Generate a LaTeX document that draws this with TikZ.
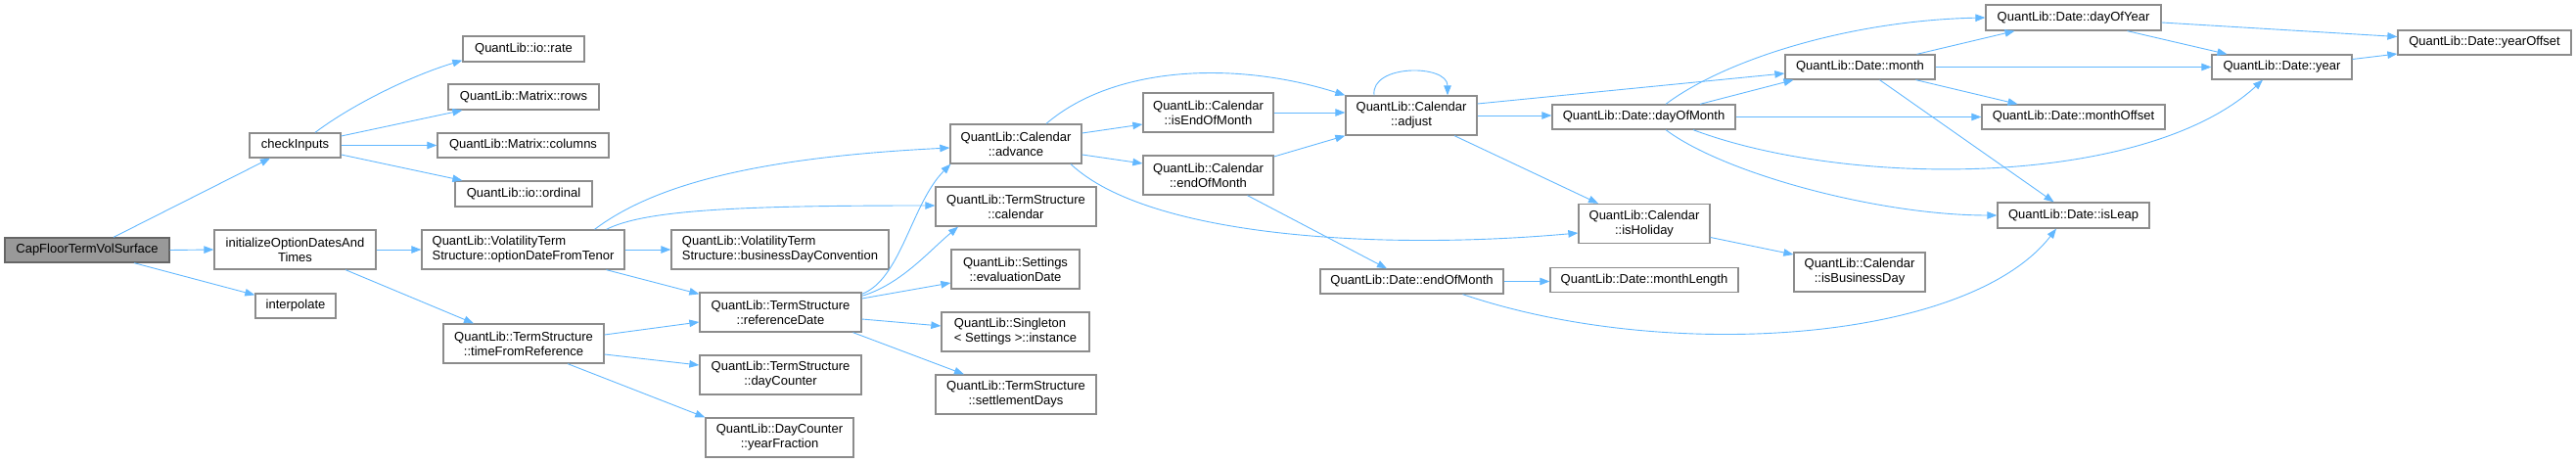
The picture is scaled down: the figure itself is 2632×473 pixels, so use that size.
\documentclass[tikz,border=0pt]{standalone}
\usepackage{fontspec}
\setmainfont{Liberation Sans}
\usepackage{tikz}
\usetikzlibrary{arrows.meta}
\definecolor{edgeblue}{HTML}{63B8FF}
\definecolor{boxline}{HTML}{8C8C8C}
\definecolor{rootfill}{HTML}{999999}
\definecolor{rootline}{HTML}{666666}

\begin{document}
\begin{tikzpicture}[x=1pt,y=-1pt,
    fn/.style={draw=boxline,line width=1.3pt,fill=white,inner sep=0pt,align=center,font=\fontsize{13}{15}\selectfont},
    fnone/.style={fn,minimum height=25pt},
    fntwo/.style={fn,minimum height=40pt},
    call/.style={draw=edgeblue,line width=0.9pt,-{Triangle[length=10pt,width=7.5pt]}}]
    \useasboundingbox (0,0) rectangle (2632,473);
    \node[fnone,minimum width=168pt,fill=rootfill,draw=rootline] (root) at (89,255.5) {CapFloorTermVolSurface};
    \node[fnone,minimum width=93pt] (chkin) at (301.5,148.5) {checkInputs};
    \node[fnone,minimum width=124pt,minimum height=26pt] (iorate) at (535,50) {QuantLib::io::rate};
    \node[fnone,minimum width=154pt,minimum height=26pt] (mrows) at (535,99) {QuantLib::Matrix::rows};
    \node[fnone,minimum width=175pt] (mcols) at (534.5,148.5) {QuantLib::Matrix::columns};
    \node[fnone,minimum width=140pt,minimum height=26pt] (iord) at (535,198) {QuantLib::io::ordinal};
    \node[fntwo,minimum width=165pt] (initdt) at (301.5,255) {initializeOptionDatesAnd\\Times};
    \node[fnone,minimum width=82pt] (interp) at (302,312.5) {interpolate};
    \node[fntwo,minimum width=207pt,align=left] (optdt) at (534.5,255) {QuantLib::VolatilityTerm\\Structure::optionDateFromTenor};
    \node[fntwo,minimum width=164pt] (tfref) at (535,351) {QuantLib::TermStructure\\::timeFromReference};
    \node[fntwo,minimum width=134pt] (advance) at (1038,147) {QuantLib::Calendar\\::advance};
    \node[fntwo,minimum width=164pt] (tscal) at (1038,211) {QuantLib::TermStructure\\::calendar};
    \node[fntwo,minimum width=222pt,align=left] (bdconv) at (797,255) {QuantLib::VolatilityTerm\\Structure::businessDayConvention};
    \node[fntwo,minimum width=131pt] (evaldt) at (1037.5,275) {QuantLib::Settings\\::evaluationDate};
    \node[fntwo,minimum width=165pt] (refdt) at (797.5,319) {QuantLib::TermStructure\\::referenceDate};
    \node[fntwo,minimum width=151pt,align=left] (inst) at (1037.5,339) {QuantLib::Singleton\\< Settings >::instance};
    \node[fntwo,minimum width=165pt] (daycnt) at (797.5,383) {QuantLib::TermStructure\\::dayCounter};
    \node[fntwo,minimum width=164pt] (settle) at (1038,403) {QuantLib::TermStructure\\::settlementDays};
    \node[fntwo,minimum width=151pt] (yfrac) at (796.5,447) {QuantLib::DayCounter\\::yearFraction};
    \node[fntwo,minimum width=133pt] (iseom) at (1234.5,115) {QuantLib::Calendar\\::isEndOfMonth};
    \node[fntwo,minimum width=133pt] (caleom) at (1234.5,179) {QuantLib::Calendar\\::endOfMonth};
    \node[fntwo,minimum width=134pt] (adjust) at (1442,118) {QuantLib::Calendar\\::adjust};
    \node[fnone,minimum width=187pt] (dom) at (1679.5,119.5) {QuantLib::Date::dayOfMonth};
    \node[fntwo,minimum width=134pt] (ishol) at (1680,228.5) {QuantLib::Calendar\\::isHoliday};
    \node[fnone,minimum width=187pt] (dateeom) at (1442.5,287.5) {QuantLib::Date::endOfMonth};
    \node[fnone,minimum width=192pt] (mlen) at (1680,286) {QuantLib::Date::monthLength};
    \node[fnone,minimum width=153pt] (month) at (1900.5,68.5) {QuantLib::Date::month};
    \node[fntwo,minimum width=134pt] (isbd) at (1900,278) {QuantLib::Calendar\\::isBusinessDay};
    \node[fnone,minimum width=179pt,minimum height=26pt] (doy) at (2118.5,18) {QuantLib::Date::dayOfYear};
    \node[fnone,minimum width=187pt] (moff) at (2118.5,119.5) {QuantLib::Date::monthOffset};
    \node[fnone,minimum width=155pt,minimum height=26pt] (isleap) at (2118.5,220) {QuantLib::Date::isLeap};
    \node[fnone,minimum width=143pt] (year) at (2331.5,68.5) {QuantLib::Date::year};
    \node[fnone,minimum width=177pt] (yoff) at (2538.5,43.5) {QuantLib::Date::yearOffset};
    \draw[call] ([xshift=27pt]root.north) -- ([xshift=-25.5pt]chkin.south);
    \draw[call] (root.east) -- (initdt.west);
    \draw[call] ([xshift=48pt]root.south) -- ([yshift=-2pt]interp.north west);
    \draw[call] ([xshift=20.5pt]chkin.north) .. controls +(40,-30) and +(-50,15) .. ([yshift=2pt]iorate.south west);
    \draw[call] ([yshift=9.5pt]chkin.east) -- ([xshift=15pt]mrows.south west);
    \draw[call] (chkin.east) -- (mcols.west);
    \draw[call] ([yshift=-9.5pt]chkin.east) -- ([xshift=8pt]iord.north west);
    \draw[call] (initdt.east) -- (optdt.west);
    \draw[call] ([xshift=51.5pt]initdt.south) -- ([xshift=-51pt]tfref.north);
    \draw[call] ([xshift=73pt]optdt.north) .. controls +(60,-45) and +(-200,10) .. ([yshift=-4pt]advance.west);
    \draw[call] ([xshift=85pt]optdt.north) .. controls +(40,-20) and +(-200,0) .. ([yshift=1pt]tscal.west);
    \draw[call] (optdt.east) -- (bdconv.west);
    \draw[call] ([xshift=85pt]optdt.south) -- ([yshift=-2pt]refdt.north west);
    \draw[call] ([yshift=9pt]tfref.east) -- ([yshift=-10pt]refdt.west);
    \draw[call] ([yshift=-11pt]tfref.east) -- ([yshift=10pt]daycnt.west);
    \draw[call] ([xshift=45pt]tfref.south) -- (yfrac.north west);
    \draw[call] ([yshift=-2pt]refdt.north east) .. controls +(40,-15) and +(-40,40) .. ([xshift=1pt]advance.south west);
    \draw[call] ([yshift=-4pt]refdt.north east) .. controls +(40,-12) and +(-30,25) .. ([xshift=-59pt]tscal.south);
    \draw[call] ([yshift=14pt]refdt.east) -- ([yshift=-14pt]evaldt.west);
    \draw[call] ([yshift=-7pt]refdt.east) -- ([yshift=6pt]inst.west);
    \draw[call] ([xshift=74pt]refdt.south) -- ([xshift=-53pt]settle.north);
    \draw[call] ([xshift=31pt]advance.north) .. controls +(70,-60) and +(-110,-35) .. (adjust.north west);
    \draw[call] ([yshift=11pt]advance.east) -- ([yshift=-12pt]iseom.west);
    \draw[call] ([yshift=-11pt]advance.east) -- ([yshift=12pt]caleom.west);
    \draw[call] ([xshift=56pt]advance.south) .. controls +(80,75) and +(-200,18) .. ([yshift=-9.5pt]ishol.west);
    \draw[call] (iseom.east) -- (iseom.east -| adjust.west);
    \draw[call] ([yshift=19pt]caleom.east) -- (adjust.south west);
    \draw[call] ([xshift=40pt]caleom.south) -- ([xshift=-25.5pt]dateeom.north);
    \draw[call] ([xshift=-38pt]adjust.north) .. controls +(-4,-32) and +(0,-32) .. ([xshift=37pt]adjust.north);
    \draw[call] ([yshift=12pt]adjust.east) -- ([yshift=-6.5pt]month.west);
    \draw[call] (adjust.east) -- (adjust.east -| dom.west);
    \draw[call] ([xshift=44pt]adjust.south) -- ([xshift=-47pt]ishol.north);
    \draw[call] ([xshift=22.5pt]dom.north) .. controls +(60,-45) and +(-140,3) .. (doy.west);
    \draw[call] ([xshift=57.5pt]dom.north) -- ([xshift=-68pt]month.south);
    \draw[call] (dom.east) -- (moff.west);
    \draw[call] ([xshift=50.5pt]dom.south) .. controls +(160,60) and +(-120,110) .. ([xshift=-19.5pt]year.south);
    \draw[call] ([xshift=22.5pt]dom.south) .. controls +(60,45) and +(-120,0) .. (isleap.west);
    \draw[call] ([xshift=58pt]month.north) -- ([xshift=-60pt]doy.south);
    \draw[call] (month.east) -- (year.west);
    \draw[call] ([xshift=57pt]month.south) -- ([xshift=-57pt]moff.north);
    \draw[call] ([xshift=20pt]month.south) -- ([xshift=-20pt]isleap.north);
    \draw[call] ([yshift=-14pt]ishol.east) -- ([yshift=18pt]isbd.west);
    \draw[call] (dateeom.east) -- (dateeom.east -| mlen.west);
    \draw[call] ([xshift=52pt]dateeom.south) .. controls +(206,70) and +(-91,117) .. ([xshift=-17.5pt]isleap.south);
    \draw[call] ([yshift=-5pt]doy.east) -- ([yshift=6pt]yoff.west);
    \draw[call] ([xshift=55pt]doy.south) -- ([xshift=-56pt]year.north);
    \draw[call] ([yshift=8pt]year.east) -- ([yshift=-11.5pt]yoff.west);
\end{tikzpicture}
\end{document}
